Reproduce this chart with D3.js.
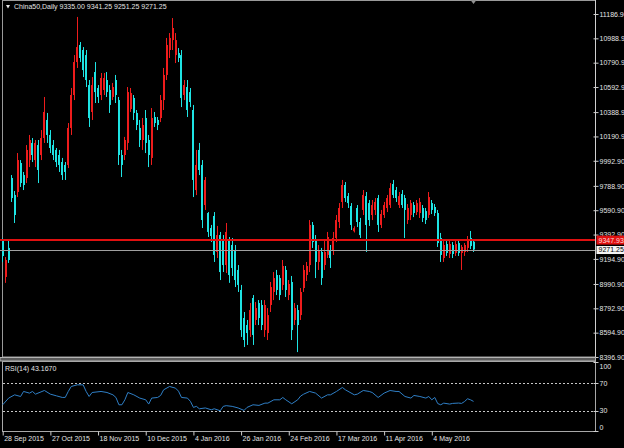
<!DOCTYPE html>
<html><head><meta charset="utf-8">
<script src="https://cdn.jsdelivr.net/npm/d3@7"></script>
<style>
html,body{margin:0;padding:0;background:#000;overflow:hidden}
svg{display:block}
text{font-family:"Liberation Sans",Arial,sans-serif;font-size:7px;fill:#e4e4e4}
</style></head>
<body><svg id="c" width="624" height="448"></svg>
<script>
// ---- data ----
const opens = [9341,9048,9284,9853,9715,9739,9975,9877,9853,9999,10138,9999,10121,10040,10178,10325,10203,10121,10081,10040,
9983,9959,9959,10260,10528,10796,10935,10894,10853,10609,10390,10715,10585,10528,10569,10650,10569,10512,10650,10487,
10040,10040,10138,10414,10504,10382,10260,10162,10341,10162,10016,10349,10325,10341,10487,10691,10894,10975,10853,10870,
10853,10528,10593,10552,10406,9755,10081,9959,9633,9568,9446,9544,9251,9389,9349,9145,9349,9308,9267,9105,
8942,8714,8657,8616,8877,8698,8836,8820,8616,8592,8820,8926,9064,9039,8983,9105,8901,9007,8698,8779,
8738,8958,9064,9145,9471,9349,9170,9251,9145,9227,9267,9267,9365,9495,9658,9796,9706,9625,9420,9609,
9495,9593,9706,9649,9552,9593,9690,9471,9552,9609,9633,9804,9755,9633,9723,9690,9511,9552,9633,9576,
9568,9609,9584,9552,9649,9617,9568,9365,9202,9316,9235,9308,9243,9324,9243,9251,9284,9365,9335];
const highs = [9365,9210,9349,9877,9747,10056,9999,9902,10121,10203,10178,10162,10162,10243,10512,10382,10243,10162,10097,10081,
10016,9983,10300,10585,10853,11163,10959,10918,10894,10650,10674,10796,10609,10707,10707,10715,10609,10626,10691,10512,
10081,10187,10593,10585,10528,10406,10325,10341,10406,10203,10422,10390,10349,10528,10748,10992,11032,11154,11032,10910,
10894,10650,10650,10585,10447,10081,10138,9999,9861,9576,9471,9576,9463,9414,9389,9487,9373,9365,9308,9145,
8983,8763,8698,8836,8901,8844,8860,8860,8860,8795,9007,9088,9105,9064,9186,9137,9023,9056,8836,8820,
8958,9145,9170,9511,9495,9389,9308,9284,9349,9414,9308,9414,9552,9649,9837,9820,9731,9649,9460,9633,
9528,9755,9739,9674,9674,9690,9715,9593,9658,9715,9812,9837,9780,9739,9755,9715,9641,9674,9658,9674,
9690,9633,9609,9739,9674,9641,9593,9406,9340,9340,9349,9332,9349,9349,9308,9324,9381,9422,9341.25];
const lows = [9170,9000,9162,9658,9487,9698,9780,9755,9812,9942,9983,9942,9812,9999,10138,10138,10056,9999,9942,9902,
9837,9837,9934,10203,10487,10748,10796,10674,10593,10268,10325,10463,10463,10487,10528,10512,10382,10487,10463,9959,
9861,9999,10081,10390,10325,10243,10105,10081,10056,9942,9959,10268,10243,10308,10406,10650,10829,10894,10788,10796,
10430,10487,10349,10430,9698,9714,9877,9446,9593,9373,9332,9170,9202,9023,9088,9080,9000,9056,8966,8926,
8560,8478,8495,8560,8495,8657,8657,8616,8560,8535,8763,8860,8901,8860,8942,8885,8860,8535,8657,8437,
8698,8926,9015,9088,9284,9039,9105,8983,9105,9202,9121,9227,9332,9446,9609,9658,9609,9430,9410,9454,
9365,9552,9251,9463,9511,9552,9414,9446,9528,9576,9609,9690,9658,9609,9609,9365,9479,9511,9535,9552,
9528,9495,9479,9528,9560,9544,9292,9170,9170,9219,9202,9202,9219,9219,9105,9219,9251,9275,9251.25];
const closes = [9218,9186,9186,9690,9552,9999,9812,9796,10081,10162,10040,10138,9918,10178,10390,10203,10097,10040,9983,9959,
9877,9902,10260,10528,10796,10918,10829,10731,10650,10341,10609,10552,10512,10666,10666,10552,10447,10593,10528,10040,
9959,10162,10552,10544,10382,10284,10162,10284,10138,10040,10341,10300,10284,10487,10691,10935,10992,11073,10975,10829,
10504,10609,10406,10471,9837,9959,9918,9511,9837,9414,9381,9227,9389,9088,9145,9414,9064,9121,9023,8983,
8616,8535,8592,8779,8576,8795,8714,8657,8820,8738,8966,9039,8942,8901,9137,8942,8991,8616,8795,8657,
8926,9105,9137,9471,9332,9170,9267,9039,9251,9373,9202,9365,9511,9609,9796,9690,9649,9471,9445,9495,
9389,9715,9471,9511,9633,9658,9471,9560,9633,9690,9771,9715,9690,9706,9633,9593,9609,9649,9568,9649,
9658,9528,9511,9698,9593,9568,9324,9227,9308,9243,9316,9235,9316,9243,9292,9308,9349,9300,9271.25];

const rsiBars = [0,2,4,6,7,9,10,11,14,16,18,20,21,22,23,25,27,28,29,30,33,35,37,38,39,40,41,42,44,46,48,49,50,52,53,54,56,58,59,60,
62,63,64,65,66,68,70,71,73,74,75,77,79,81,82,84,86,88,89,91,93,94,95,97,99,100,101,103,105,107,109,110,112,114,115,118,119,121,123,124,
126,128,130,132,133,135,137,138,140,142,143,144,145,146,147,148,150,151,153,154,155,156,157,158];
const rsiValues = [38.3,48,52.7,50.3,57.6,55.2,57.6,53.7,59,53.7,51.3,48.9,49,57.6,64.8,67.2,67.2,57.6,50.3,56.1,57.6,56.1,52.7,48.9,38.3,38.3,45.5,56.1,52.7,48,45.5,39.3,48,48.9,51.8,60,64.8,62.4,58,48.9,
48,43.2,34.5,36,32.5,33.7,31,32.5,29.6,36,37,36,33.7,30.1,34.5,38.3,37.4,40.7,40.7,45.5,45.5,48.9,45.5,39.7,45.5,51,53.7,57.6,55.2,48,52.7,52.7,57.6,63.4,60,52.7,53.7,59,57.6,56.1,
48.9,55.2,59,57.6,57.6,50.3,48,51.8,50.3,48,50.3,45.5,48.9,40,38.3,40.7,39.3,40.3,40.8,40.3,43,47,45.5,43.167];

const priceTicks = [11186.9,10988.9,10790.9,10592.9,10388.9,10190.9,9992.9,9788.9,9590.9,9392.9,9194.9,8990.9,8792.9,8594.9,8396.9];
const dateTickBars = [0,16,32,48,64,80,96,112,128,144];
const dateLabels = ["28 Sep 2015","27 Oct 2015","18 Nov 2015","10 Dec 2015","4 Jan 2016","26 Jan 2016","24 Feb 2016","17 Mar 2016","11 Apr 2016","4 May 2016"];
const rsiTicks = [100,70,30,0];
const rsiLevels = [70,30];
const hLinePrice = 9347.93;
const bidPrice = 9271.25;
const titleText = "China50,Daily  9335.00 9341.25 9251.25 9271.25";
const rsiTitle = "RSI(14) 43.1670";

// ---- layout ----
const W = 624, H = 448, AX = 595.5;
const svg = d3.select("#c");
const x = d3.scaleLinear().domain([0,144]).range([2.7,431.8]);
const y = d3.scaleLinear().domain([8396.9,11186.9]).range([357,14]);
const ry = d3.scaleLinear().domain([0,100]).range([431.2,362.2]);

svg.append("rect").attr("width",W).attr("height",H).attr("fill","#000");

const bars = d3.range(opens.length).map(i=>({i,o:opens[i],h:highs[i],l:lows[i],c:closes[i]}));
const UP="#ee1c1c", DN="#1ee4e4";

// main panel frame
svg.append("rect").attr("x",2.5).attr("y",0.5).attr("width",AX-2.5).attr("height",356.5)
  .attr("fill","none").attr("stroke","#9a9a9a");

// candles
const cg = svg.append("g");
cg.selectAll("rect.w").data(bars).join("rect").attr("class","w")
  .attr("x",d=>Math.round(x(d.i)-0.5)).attr("width",1)
  .attr("y",d=>y(d.h)).attr("height",d=>Math.max(1,y(d.l)-y(d.h)))
  .attr("fill",d=>d.c>=d.o?UP:DN);
cg.selectAll("rect.b").data(bars).join("rect").attr("class","b")
  .attr("x",d=>Math.round(x(d.i)-1)).attr("width",2)
  .attr("y",d=>y(Math.max(d.o,d.c))).attr("height",d=>Math.max(1,Math.abs(y(d.o)-y(d.c))))
  .attr("fill",d=>d.c>=d.o?UP:DN);

// horizontal lines
svg.append("line").attr("x1",0).attr("x2",AX).attr("y1",y(hLinePrice)).attr("y2",y(hLinePrice))
  .attr("stroke","#e01010").attr("stroke-width",2);
svg.append("line").attr("x1",0).attr("x2",AX).attr("y1",Math.round(y(bidPrice))+0.5).attr("y2",Math.round(y(bidPrice))+0.5)
  .attr("stroke","#a0a0a0").attr("stroke-width",1);

// right price axis
const ya = svg.append("g").attr("transform",`translate(${AX},0)`)
  .call(d3.axisRight(y).tickValues(priceTicks).tickFormat(d=>d.toFixed(2)).tickSize(3).tickPadding(1));
ya.select(".domain").remove();
ya.selectAll("line").attr("stroke","#cfcfcf").attr("x1",-2);
ya.selectAll("text").attr("fill","#e4e4e4").style("font-size","7px").style("font-family","Liberation Sans");

// price labels for lines
const hy = y(hLinePrice);
svg.append("rect").attr("x",AX+1).attr("y",hy-4.5).attr("width",W-AX).attr("height",9).attr("fill","#e01010");
svg.append("text").attr("x",AX+3).attr("y",hy).attr("dy","0.35em").attr("fill","#ffd0d0").style("fill","#ffd8d8").text(hLinePrice.toFixed(2));
const by = y(bidPrice);
svg.append("rect").attr("x",AX+1).attr("y",by-3.5).attr("width",W-AX).attr("height",8).attr("fill","#f4f4f4");
svg.append("text").attr("x",AX+3).attr("y",by+0.5).attr("dy","0.35em").style("fill","#000").text(bidPrice.toFixed(2));

// axis vertical line
svg.append("line").attr("x1",AX).attr("x2",AX).attr("y1",0).attr("y2",432).attr("stroke","#cfcfcf");

// separator
svg.append("rect").attr("x",0).attr("y",357.5).attr("width",AX).attr("height",3.5)
  .attr("fill","#5a5a5a").attr("stroke","#b4b4b4");

// RSI panel
svg.append("rect").attr("x",2.5).attr("y",361.5).attr("width",AX-2.5).attr("height",70)
  .attr("fill","none").attr("stroke","#a8a8a8");
rsiLevels.forEach(v=>{
  svg.append("line").attr("x1",3).attr("x2",AX).attr("y1",Math.round(ry(v))+0.5).attr("y2",Math.round(ry(v))+0.5)
    .attr("stroke","#c8c8c8").attr("stroke-dasharray","2,2");
});
const line = d3.line().x((d,k)=>x(rsiBars[k])).y(d=>ry(d));
svg.append("path").datum(rsiValues).attr("d",line).attr("fill","none")
  .attr("stroke","#2f7fc6").attr("stroke-width",1);
const ra = svg.append("g").attr("transform",`translate(${AX},0)`);
ra.selectAll("text").data(rsiTicks).join("text")
  .attr("x",4).attr("y",d=>Math.max(367,Math.min(428,ry(d)+0.5))).attr("dy","0.35em").text(d=>d);
ra.selectAll("line").data(rsiTicks).join("line")
  .attr("x1",-2).attr("x2",3).attr("y1",d=>Math.round(ry(d))+0.5).attr("y2",d=>Math.round(ry(d))+0.5).attr("stroke","#cfcfcf");

// bottom date axis
const xa = svg.append("g").attr("transform","translate(0,431.5)")
  .call(d3.axisBottom(x).tickValues(dateTickBars).tickFormat((d,k)=>dateLabels[k]).tickSize(4).tickPadding(1));
xa.select(".domain").remove();
xa.selectAll("line").attr("stroke","#cfcfcf");
xa.selectAll("text").attr("text-anchor","start").attr("x",1).attr("y",4.5)
  .attr("fill","#e4e4e4").style("font-size","7px").style("font-family","Liberation Sans");

// titles
svg.append("path").attr("d","M6,5 L10,5 L8,8.5 Z").attr("fill","#e8e8e8");
svg.append("text").attr("x",14).attr("y",7).attr("dy","0.35em").text(titleText);
svg.append("text").attr("x",5).attr("y",368.5).attr("dy","0.35em").text(rsiTitle);

// chart shift marker
svg.append("path").attr("d",`M${x(158)-3},0 L${x(158)+3},0 L${x(158)},4 Z`).attr("fill","#909090");
</script></body></html>
